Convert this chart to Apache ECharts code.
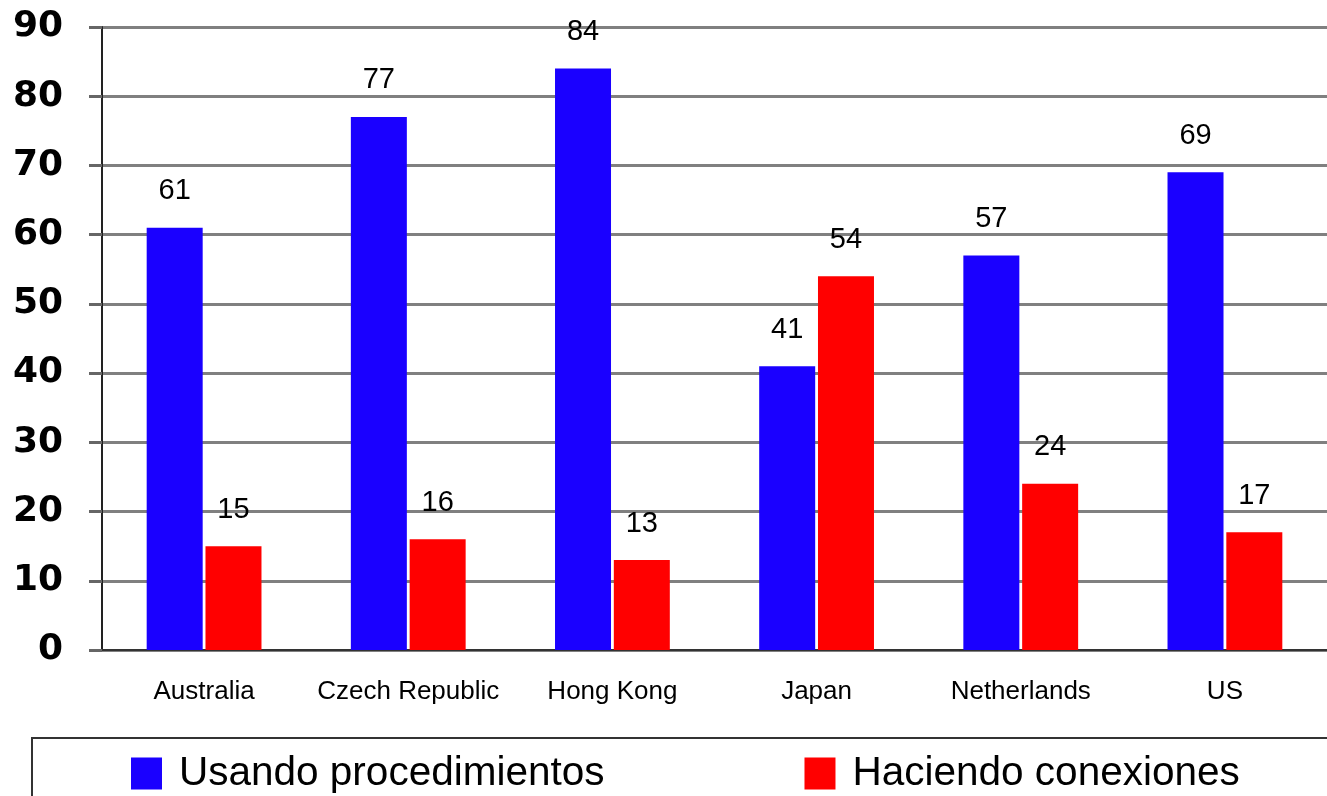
<!DOCTYPE html>
<html>
<head>
<meta charset="utf-8">
<script src="https://cdn.jsdelivr.net/npm/echarts@6/dist/echarts.min.js"></script>
<style>
    * { margin: 0; padding: 0; }
    html, body { background: #fff; }
</style>
</head>
<body>
<div id="chart" style="width: 1327px;height: 796px;"></div>
<script>
    var paises = ['Australia', 'Czech Republic', 'Hong Kong', 'Japan', 'Netherlands', 'US'];
    var usando = [61, 77, 84, 41, 57, 69];
    var haciendo = [15, 16, 13, 54, 24, 17];
    var nombres = ['Usando procedimientos', 'Haciendo conexiones'];

    var chart = echarts.init(document.getElementById('chart'));
    var etiqueta = {
        show: true,
        position: 'top',
        distance: 22,
        color: '#000',
        fontFamily: 'Liberation Sans',
        fontSize: 29
    };
    chart.setOption({
        animation: false,
        color: ['#1a00ff', '#ff0000'],
        grid: { left: 102, right: -11, top: 27, bottom: 146 },
        legend: {
            data: nombres,
            left: 131,
            top: 753,
            padding: 0,
            itemWidth: 31,
            itemHeight: 32,
            itemGap: 200,
            icon: 'rect',
            textStyle: { fontFamily: 'Liberation Sans', fontSize: 40.5, lineHeight: 40, color: '#000', padding: [0, 0, 0, 12] }
        },
        graphic: [{
            type: 'rect',
            shape: { x: 32, y: 738, width: 1400, height: 120 },
            style: { fill: 'none', stroke: '#333', lineWidth: 2 }
        }],
        xAxis: {
            type: 'category',
            data: paises,
            axisLine: { lineStyle: { color: '#333', width: 2 } },
            axisTick: { length: 8, lineStyle: { color: '#333', width: 2 } },
            axisLabel: { interval: 0, margin: 29, color: '#000', fontFamily: 'Liberation Sans', fontSize: 26 }
        },
        yAxis: {
            type: 'value',
            min: 0,
            max: 90,
            interval: 10,
            axisLine: { show: true, lineStyle: { color: '#222', width: 2 } },
            axisTick: { show: true, length: 13, lineStyle: { color: '#666', width: 3 } },
            splitLine: { lineStyle: { color: '#808080', width: 3 } },
            axisLabel: { margin: 39, color: '#000', fontFamily: 'DejaVu Sans', fontWeight: 'bold', fontSize: 36 }
        },
        series: [
            { name: nombres[0], type: 'bar', data: usando, barWidth: 56, barGap: '5%', label: etiqueta },
            { name: nombres[1], type: 'bar', data: haciendo, barWidth: 56, barGap: '5%', label: etiqueta }
        ]
    });
</script>
</body>
</html>
